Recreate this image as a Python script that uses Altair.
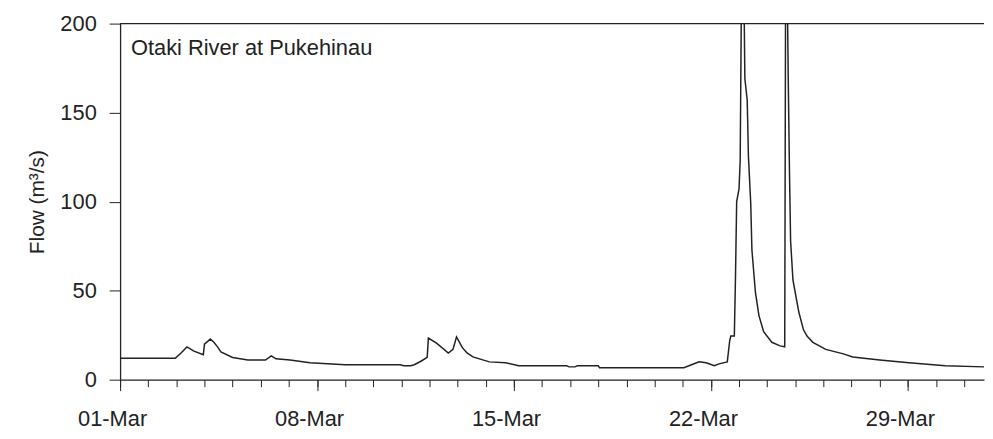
import altair as alt
import pandas as pd

# Hours since 01-Mar 00:00 and flow (m3/s)
hours = [0, 47, 52, 57, 63, 71, 72, 77, 80, 83, 86, 96, 109, 124, 129, 133, 145, 162, 192,
         239, 242, 248, 251, 257, 262, 263, 270, 280, 284, 287, 292, 296, 301, 315, 329, 340,
         381, 383, 388, 390, 408, 409, 481, 488, 494, 500, 507, 511, 518, 520, 521,
         524, 525, 526, 528, 529, 530, 531, 533, 535, 536, 538, 539, 542, 545, 549,
         556, 563, 567, 568, 570, 571, 572, 574, 579, 583, 586, 591, 602, 617, 625,
         648, 673, 704, 737]
flow = [12, 12, 15, 18.4, 16, 14, 20, 22.8, 21, 18.6, 15.6, 12.5, 11.1, 11, 13.4, 11.7, 11, 9.5, 8.4,
        8.4, 7.8, 7.8, 8.4, 10.5, 12.5, 23.4, 20.5, 15, 17, 24, 18, 15, 12.8, 10, 9.5, 7.8,
        7.8, 7.2, 7.2, 7.8, 7.8, 6.7, 6.7, 8.5, 10, 9.5, 7.8, 8.9, 10, 21.7, 24.5,
        24.5, 58, 100, 107, 123, 210, 290, 169, 157, 126, 99, 73, 49, 36, 27,
        21, 19, 18.5, 290, 169, 119, 78, 56, 38, 28, 24.5, 21, 17, 14.5, 12.8,
        11.1, 9.5, 7.8, 7.2]

major_days = [1, 8, 15, 22, 29]
minor_days = list(range(1, 32))
y_ticks = [0, 50, 100, 150, 200]
station = "Otaki River at Pukehinau"
y_title = "Flow (m³/s)"

FONT = "Liberation Sans, Arial, Helvetica, sans-serif"
INK = "#222222"

start = pd.Timestamp("2010-03-01")
df = pd.DataFrame({"time": start + pd.to_timedelta(hours, unit="h"), "flow": flow})

x_scale = alt.Scale(domain=[alt.DateTime(year=2010, month=3, date=1),
                            alt.DateTime(year=2010, month=3, date=31, hours=17)],
                    nice=False)
y_scale = alt.Scale(domain=[0, 200], nice=False)

major_axis = alt.Axis(values=[alt.DateTime(year=2010, month=3, date=d) for d in major_days],
                      format="%d-%b", orient="bottom", title=None, grid=False,
                      tickSize=11, tickColor=INK, domainColor=INK, domainWidth=1.3,
                      labelFont=FONT, labelFontSize=22, labelColor=INK,
                      labelPadding=18, labelOffset=-8, labelFlush=False, labelOverlap=False)
minor_axis = alt.Axis(values=[alt.DateTime(year=2010, month=3, date=d) for d in minor_days],
                      orient="bottom", title=None, grid=False, labels=False, domain=False,
                      tickSize=7, tickColor=INK)
y_axis = alt.Axis(values=y_ticks, title=y_title, grid=False, tickSize=11, tickColor=INK,
                  domainColor=INK, domainWidth=1.3, labelFont=FONT, labelFontSize=22,
                  labelColor=INK, labelPadding=13, titleFont=FONT, titleFontSize=21,
                  titleFontWeight="normal", titleColor=INK, titlePadding=13)

line = alt.Chart(df).mark_line(color=INK, strokeWidth=1.5, clip=True).encode(
    x=alt.X("time:T", scale=x_scale, axis=major_axis),
    y=alt.Y("flow:Q", scale=y_scale, axis=y_axis),
)
minor = alt.Chart(df).mark_rule(opacity=0).encode(
    x=alt.X("time:T", scale=x_scale, axis=minor_axis),
)
top = alt.Chart(pd.DataFrame({"v": [200]})).mark_rule(color=INK, strokeWidth=1.3).encode(
    y=alt.Y("v:Q", scale=y_scale, title=y_title),
)
label = alt.Chart(pd.DataFrame({"name": [station]})).mark_text(
    align="left", baseline="alphabetic", font=FONT, fontSize=22, color=INK
).encode(text="name:N", x=alt.value(11), y=alt.value(32))

chart = alt.layer(line, minor, top, label).resolve_axis(x="independent").properties(
    width=871, height=359,
    autosize=alt.AutoSizeParams(type="none"),
    padding={"left": 113, "top": 14, "right": 1, "bottom": 50},
).configure_view(stroke=None)

chart.save("out.html", embed_options={"renderer": "svg", "actions": False})
